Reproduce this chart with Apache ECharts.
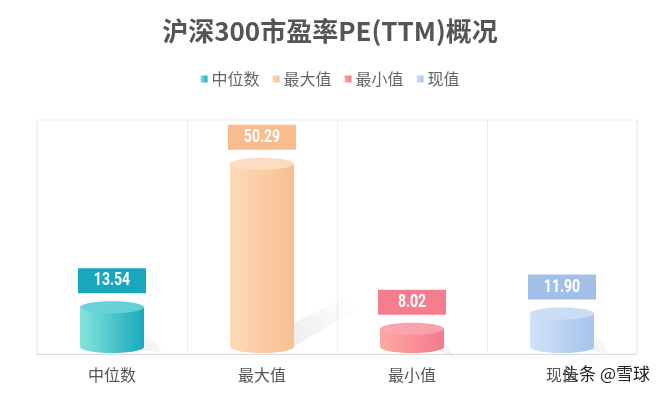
<!DOCTYPE html>
<html><head><meta charset="utf-8">
<script src="https://cdn.jsdelivr.net/npm/echarts@6/dist/echarts.min.js"></script>
<style>html,body{margin:0;padding:0;background:#fff}#c{width:660px;height:397px}</style>
</head><body><div id="c"></div>
<script>
const titleText = '沪深300市盈率PE(TTM)概况';
const categories = ['中位数', '最大值', '最小值', '现值'];
const values = [13.54, 50.29, 8.02, 11.90];
// per-series colours: [body left, body right, top ellipse, label box]
const palette = [
  ['#86e4dc', '#18a9bc', '#62cfd7', '#1aa7bd'],
  ['#fdd9b7', '#f8c091', '#fcdcc0', '#f8bc8e'],
  ['#fcaaa2', '#f4798c', '#f8a0aa', '#f57e8e'],
  ['#d0e2f8', '#a6c4ed', '#c8dcf5', '#a2bfe8']
];
const FONT = '"Noto Sans CJK SC", "Noto Sans", sans-serif';

function grad(c) {
  return new echarts.graphic.LinearGradient(0, 0, 1, 0, [
    {offset: 0, color: c[0]}, {offset: 1, color: c[1]}
  ]);
}

function makeRender(ci) {
  return function (params, api) {
    const c = palette[ci];
    const p0 = api.coord([api.value(0), 0]);
    const p1 = api.coord([api.value(0), api.value(1)]);
    const x = p0[0], base = p0[1] - 1, top = p1[1];
    const w = 64, rx = w / 2, ry = 6;
    const h = base - top;
    const sx = x + rx - 6;
    const children = [
      {
        type: 'polygon',
        shape: {points: [
          [sx, base - 3], [sx, base - Math.min(h, 60) * 0.45],
          [sx + h * 0.3, base - h * 0.29], [sx + h * 0.3 + 8, base - h * 0.29 + 14]
        ]},
        style: {
          fill: new echarts.graphic.LinearGradient(0, 1, 1, 0, [
            {offset: 0, color: 'rgba(0,0,0,0.07)'}, {offset: 1, color: 'rgba(0,0,0,0)'}
          ]),
          shadowBlur: 18, shadowColor: 'rgba(0,0,0,0.10)'
        },
        z2: 0
      },
      {
        type: 'rect',
        shape: {x: x - rx, y: top + ry, width: w, height: Math.max(0, h - 2 * ry)},
        style: {fill: grad(c)}, z2: 1
      },
      {
        type: 'ellipse',
        shape: {cx: x, cy: base - ry, rx: rx, ry: ry},
        style: {fill: grad(c)}, z2: 1
      },
      {
        type: 'ellipse',
        shape: {cx: x, cy: top + ry, rx: rx, ry: ry},
        style: {fill: new echarts.graphic.LinearGradient(0, 0, 1, 1, [
          {offset: 0, color: echarts.color.lift(c[2], 0.08)}, {offset: 1, color: c[2]}
        ])}, z2: 2
      },
      {
        type: 'rect',
        shape: {x: x - 34, y: top - 33, width: 68, height: 25},
        style: {fill: c[3]}, z2: 3
      },
      {
        type: 'text',
        x: x, y: top - 20.5, scaleX: 0.78,
        style: {
          text: api.value(1).toFixed(2), fill: '#fff',
          font: 'bold 18px Roboto, "Liberation Sans", sans-serif',
          align: 'center', verticalAlign: 'middle'
        }, z2: 4
      }
    ];
    return {type: 'group', children: children};
  };
}

const series = categories.map((name, i) => ({
  name: name,
  type: 'custom',
  renderItem: makeRender(i),
  itemStyle: {color: grad(palette[i])},
  encode: {x: 0, y: 1},
  data: [[i, values[i]]]
}));

const chart = echarts.init(document.getElementById('c'));
chart.setOption({
  backgroundColor: '#fff',
  animation: false,
  title: {
    text: titleText, left: 'center', top: 13,
    textStyle: {fontFamily: FONT, fontSize: 26, fontWeight: 'bold', color: '#555'}
  },
  legend: {
    data: categories, top: 66, left: 'center',
    icon: 'rect', itemWidth: 7, itemHeight: 7, itemGap: 13,
    textStyle: {fontFamily: FONT, fontSize: 16, color: '#666', padding: [0, 0, 0, -1]}
  },
  grid: {left: 37, right: 23, top: 120, bottom: 43, show: true, borderColor: '#eeeeee', borderWidth: 1},
  xAxis: {
    type: 'category', data: categories,
    axisLine: {lineStyle: {color: '#dddddd'}},
    axisTick: {show: false},
    axisLabel: {fontFamily: FONT, fontSize: 16, color: '#555', margin: 13},
    splitLine: {show: true, lineStyle: {color: '#eeeeee'}}
  },
  yAxis: {
    type: 'value', min: 0, max: 60, show: false, splitLine: {show: false}
  },
  graphic: [{
    type: 'text', right: 10, top: 365,
    style: {text: '头条 @雪球', fill: '#222', font: '17px ' + FONT}
  }],
  series: series
});
</script>
</body></html>
